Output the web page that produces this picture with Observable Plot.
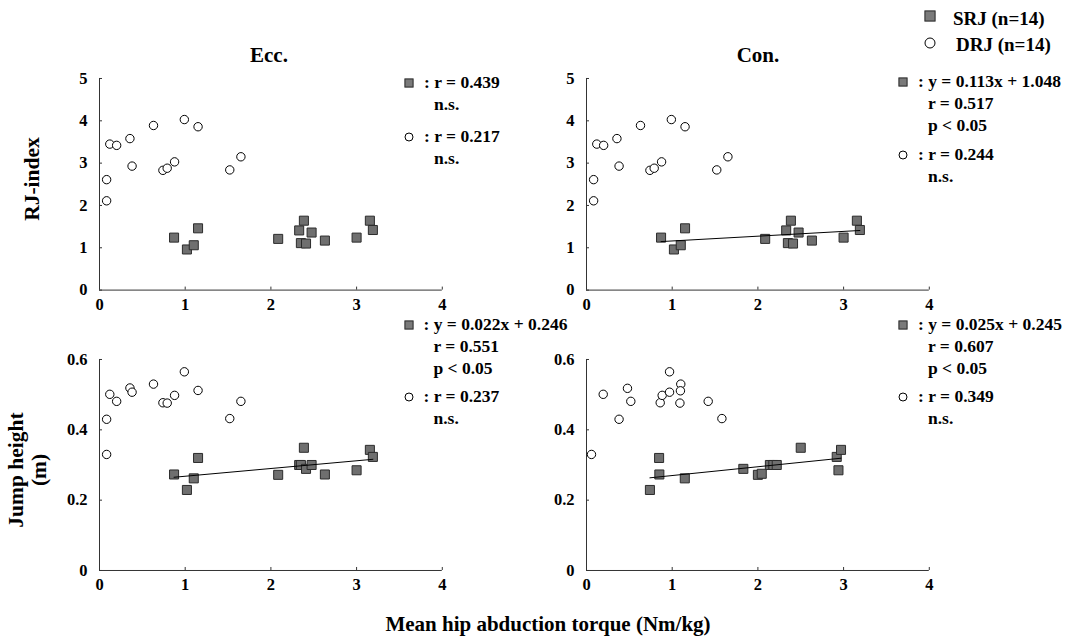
<!DOCTYPE html>
<html>
<head>
<meta charset="utf-8">
<script src="https://cdn.jsdelivr.net/npm/d3@7"></script>
<script src="https://cdn.jsdelivr.net/npm/@observablehq/plot@0.6"></script>
<style>
  body { margin: 0; background: #fff; }
  #fig { position: relative; width: 1072px; height: 639px; overflow: hidden;
         font-family: "Liberation Serif", "Times New Roman", serif; font-weight: bold; color: #000; }
  #fig svg text { font-family: "Liberation Serif", "Times New Roman", serif; font-weight: bold; font-size: 16.5px; fill: #000; }
  .t { position: absolute; white-space: nowrap; line-height: 1; }
  .msq { position: absolute; width: 7px; height: 7px; background: #7a7a7a; border: 1px solid #333; transform: translate(-50%, -50%); }
  .mci { position: absolute; width: 7px; height: 7px; background: #fff; border: 1px solid #000; border-radius: 50%; transform: translate(-50%, -50%); }
</style>
</head>
<body>
<div id="fig"></div>
<script>
// ---------------- data ----------------
const xTicks = [0, 1, 2, 3, 4];
const rjTicks = [0, 1, 2, 3, 4, 5];
const jhTicks = [0, 0.2, 0.4, 0.6];
const jhTickLabels = ["0", "0.2", "0.4", "0.6"];

// eccentric torque (Nm/kg)
const torqueEccSRJ = [0.87, 1.02, 1.10, 1.15, 2.085, 2.33, 2.385, 2.35, 2.41, 2.475, 2.63, 3.00, 3.155, 3.19];
const torqueEccDRJ = [0.083, 0.083, 0.12, 0.20, 0.355, 0.38, 0.63, 0.74, 0.79, 0.876, 0.99, 1.15, 1.52, 1.65];
// torque positions as drawn in the Con. RJ-index panel of the reference
const torqueConRjSRJ = [0.87, 1.02, 1.10, 1.15, 2.085, 2.33, 2.385, 2.35, 2.41, 2.475, 2.63, 3.00, 3.155, 3.19];
const torqueConRjDRJ = [0.083, 0.083, 0.12, 0.20, 0.355, 0.38, 0.63, 0.74, 0.79, 0.876, 0.99, 1.15, 1.52, 1.65];
// concentric torque (Nm/kg), jump height panel
const torqueConSRJ = [0.74, 0.847, 0.85, 1.147, 1.83, 2.0, 2.045, 2.14, 2.18, 2.22, 2.50, 2.92, 2.94, 2.97];
const torqueConDRJ = [0.058, 0.195, 0.38, 0.478, 0.517, 0.86, 0.883, 0.969, 0.969, 1.10, 1.096, 1.09, 1.42, 1.58];

// RJ-index
const rjSRJ = [1.24, 0.96, 1.06, 1.46, 1.21, 1.41, 1.64, 1.11, 1.10, 1.36, 1.17, 1.24, 1.64, 1.42];
const rjDRJ = [2.61, 2.11, 3.45, 3.42, 3.58, 2.93, 3.89, 2.83, 2.88, 3.03, 4.03, 3.86, 2.84, 3.15];
// jump height (m), ordered like the eccentric torque arrays
const jhEccSRJ = [0.273, 0.229, 0.262, 0.320, 0.272, 0.300, 0.349, 0.300, 0.289, 0.300, 0.273, 0.285, 0.343, 0.323];
const jhEccDRJ = [0.430, 0.330, 0.501, 0.481, 0.519, 0.507, 0.530, 0.477, 0.476, 0.498, 0.565, 0.512, 0.432, 0.481];
// jump height (m), ordered like the concentric torque arrays
const jhConSRJ = [0.229, 0.320, 0.273, 0.262, 0.289, 0.272, 0.275, 0.300, 0.300, 0.300, 0.349, 0.323, 0.285, 0.343];
const jhConDRJ = [0.330, 0.501, 0.430, 0.518, 0.481, 0.477, 0.498, 0.565, 0.507, 0.530, 0.511, 0.476, 0.481, 0.432];

// regression fits (SRJ): [slope, intercept]
const fitConRJ = [0.113, 1.048];
const fitEccJH = [0.022, 0.246];
const fitConJH = [0.025, 0.245];

// text
const panelTitles = ["Ecc.", "Con."];
const yTitleRJ = "RJ-index";
const yTitleJH = ["Jump height", "(m)"];
const xTitle = "Mean hip abduction torque (Nm/kg)";
const legendLabels = ["SRJ (n=14)", "DRJ (n=14)"];
const statEccRJ_SRJ = [": r = 0.439", "n.s."];
const statEccRJ_DRJ = [": r = 0.217", "n.s."];
const statConRJ_SRJ = [": y = 0.113x + 1.048", "r = 0.517", "p < 0.05"];
const statConRJ_DRJ = [": r = 0.244", "n.s."];
const statEccJH_SRJ = [": y = 0.022x + 0.246", "r = 0.551", "p < 0.05"];
const statEccJH_DRJ = [": r = 0.237", "n.s."];
const statConJH_SRJ = [": y = 0.025x + 0.245", "r = 0.607", "p < 0.05"];
const statConJH_DRJ = [": r = 0.349", "n.s."];

// ---------------- drawing ----------------
const fig = document.getElementById("fig");
const FONT = '"Liberation Serif", "Times New Roman", serif';

function addPanel(cfg) {
  const padL = 60, padR = 24, padT = 16, padB = 36;
  const innerW = cfg.x4 - cfg.x0, innerH = cfg.y0 - cfg.yTop;
  const srj = cfg.srjX.map((x, i) => ({x, y: cfg.srjY[i]}));
  const drj = cfg.drjX.map((x, i) => ({x, y: cfg.drjY[i]}));
  const marks = [
    Plot.axisY(cfg.yTicks, {tickSize: 0, tickPadding: 12, tickFormat: cfg.yFmt, label: null}),
    Plot.axisY(cfg.yTicks, {tickSize: 3, dx: 3, fill: "none", stroke: "#333", label: null}),
    Plot.axisX(xTicks, {tickSize: 0, tickPadding: 8, label: null}),
    Plot.axisX(xTicks, {tickSize: 3, dy: -3, fill: "none", stroke: "#333", label: null}),
    Plot.ruleY([cfg.yDomain[0]], {stroke: "#333", strokeWidth: 1}),
    Plot.ruleX([0], {stroke: "#333", strokeWidth: 1}),
    Plot.dot(drj, {x: "x", y: "y", r: 4.2, fill: "white", stroke: "black", strokeWidth: 1}),
    Plot.dot(srj, {x: "x", y: "y", symbol: "square", r: 5.1, fill: "#6f6f6f", stroke: "#2b2b2b", strokeWidth: 1})
  ];
  if (cfg.fit) {
    const [m, b] = cfg.fit;
    const ext = d3.extent(cfg.srjX);
    marks.push(Plot.line(ext.map(x => ({x, y: m * x + b})), {x: "x", y: "y", stroke: "black", strokeWidth: 1}));
  }
  const svg = Plot.plot({
    width: innerW + padL + padR,
    height: innerH + padT + padB,
    marginLeft: padL, marginRight: padR, marginTop: padT, marginBottom: padB,
    x: {domain: [0, 4]},
    y: {domain: cfg.yDomain},
    style: {fontFamily: FONT, fontSize: "16.5px", fontWeight: "bold", background: "transparent", color: "black", overflow: "visible", maxWidth: "none"},
    marks
  });
  svg.style.position = "absolute";
  svg.style.left = (cfg.x0 - padL) + "px";
  svg.style.top = (cfg.yTop - padT) + "px";
  fig.appendChild(svg);
}

const rjFmt = d => String(d);
const jhFmt = d => jhTickLabels[jhTicks.indexOf(d)];

const colL = {x0: 98.6, x4: 441.4};
const colR = {x0: 585.7, x4: 928.5};
const rowT = {y0: 289.3, yTop: 77.7, yDomain: [0, 5], yTicks: rjTicks, yFmt: rjFmt};
const rowB = {y0: 570, yTop: 359, yDomain: [0, 0.6], yTicks: jhTicks, yFmt: jhFmt};

addPanel({...colL, ...rowT, srjX: torqueEccSRJ, srjY: rjSRJ, drjX: torqueEccDRJ, drjY: rjDRJ});
addPanel({...colR, ...rowT, srjX: torqueConRjSRJ, srjY: rjSRJ, drjX: torqueConRjDRJ, drjY: rjDRJ, fit: fitConRJ});
addPanel({...colL, ...rowB, srjX: torqueEccSRJ, srjY: jhEccSRJ, drjX: torqueEccDRJ, drjY: jhEccDRJ, fit: fitEccJH});
addPanel({...colR, ...rowB, srjX: torqueConSRJ, srjY: jhConSRJ, drjX: torqueConDRJ, drjY: jhConDRJ, fit: fitConJH});

function text(str, x, y, size, mode) {
  const d = document.createElement("div");
  d.className = "t";
  d.textContent = str;
  d.style.left = x + "px";
  d.style.top = y + "px";
  d.style.fontSize = size + "px";
  if (mode === "center") d.style.transform = "translate(-50%, -50%)";
  else if (mode === "rot") d.style.transform = "translate(-50%, -50%) rotate(-90deg)";
  else d.style.transform = "translate(0, -50%)";
  fig.appendChild(d);
  return d;
}
function marker(kind, x, y, size) {
  const d = document.createElement("div");
  d.className = kind === "square" ? "msq" : "mci";
  d.style.left = x + "px";
  d.style.top = y + "px";
  if (size) { d.style.width = size + "px"; d.style.height = size + "px"; }
  fig.appendChild(d);
}
function statBlock(kind, lines, mx, y) {
  marker(kind, mx, y);
  lines.forEach((s, i) => {
    text(s, i === 0 ? mx + 15 : mx + 25, y + i * 22, 17.5);
  });
}

// titles
text(panelTitles[0], 269, 55, 21, "center");
text(panelTitles[1], 758, 55, 21, "center");
text(yTitleRJ, 33, 179, 21.5, "rot");
const jh = text("", 27.5, 470, 21.5, "rot");
jh.style.textAlign = "center";
jh.style.lineHeight = "23px";
yTitleJH.forEach((s, i) => { if (i) jh.appendChild(document.createElement("br")); jh.appendChild(document.createTextNode(s)); });
text(xTitle, 548, 624, 21, "center");

// legend
marker("square", 930, 16, 9);
text(legendLabels[0], 953, 18, 19);
marker("circle", 930, 43, 9);
text(legendLabels[1], 956, 44, 19);

// statistics
statBlock("square", statEccRJ_SRJ, 409, 83);
statBlock("circle", statEccRJ_DRJ, 409, 137);
statBlock("square", statConRJ_SRJ, 903, 82);
statBlock("circle", statConRJ_DRJ, 903, 155);
statBlock("square", statEccJH_SRJ, 408.5, 325);
statBlock("circle", statEccJH_DRJ, 408.5, 397);
statBlock("square", statConJH_SRJ, 903, 325);
statBlock("circle", statConJH_DRJ, 903, 397);
</script>
</body>
</html>
